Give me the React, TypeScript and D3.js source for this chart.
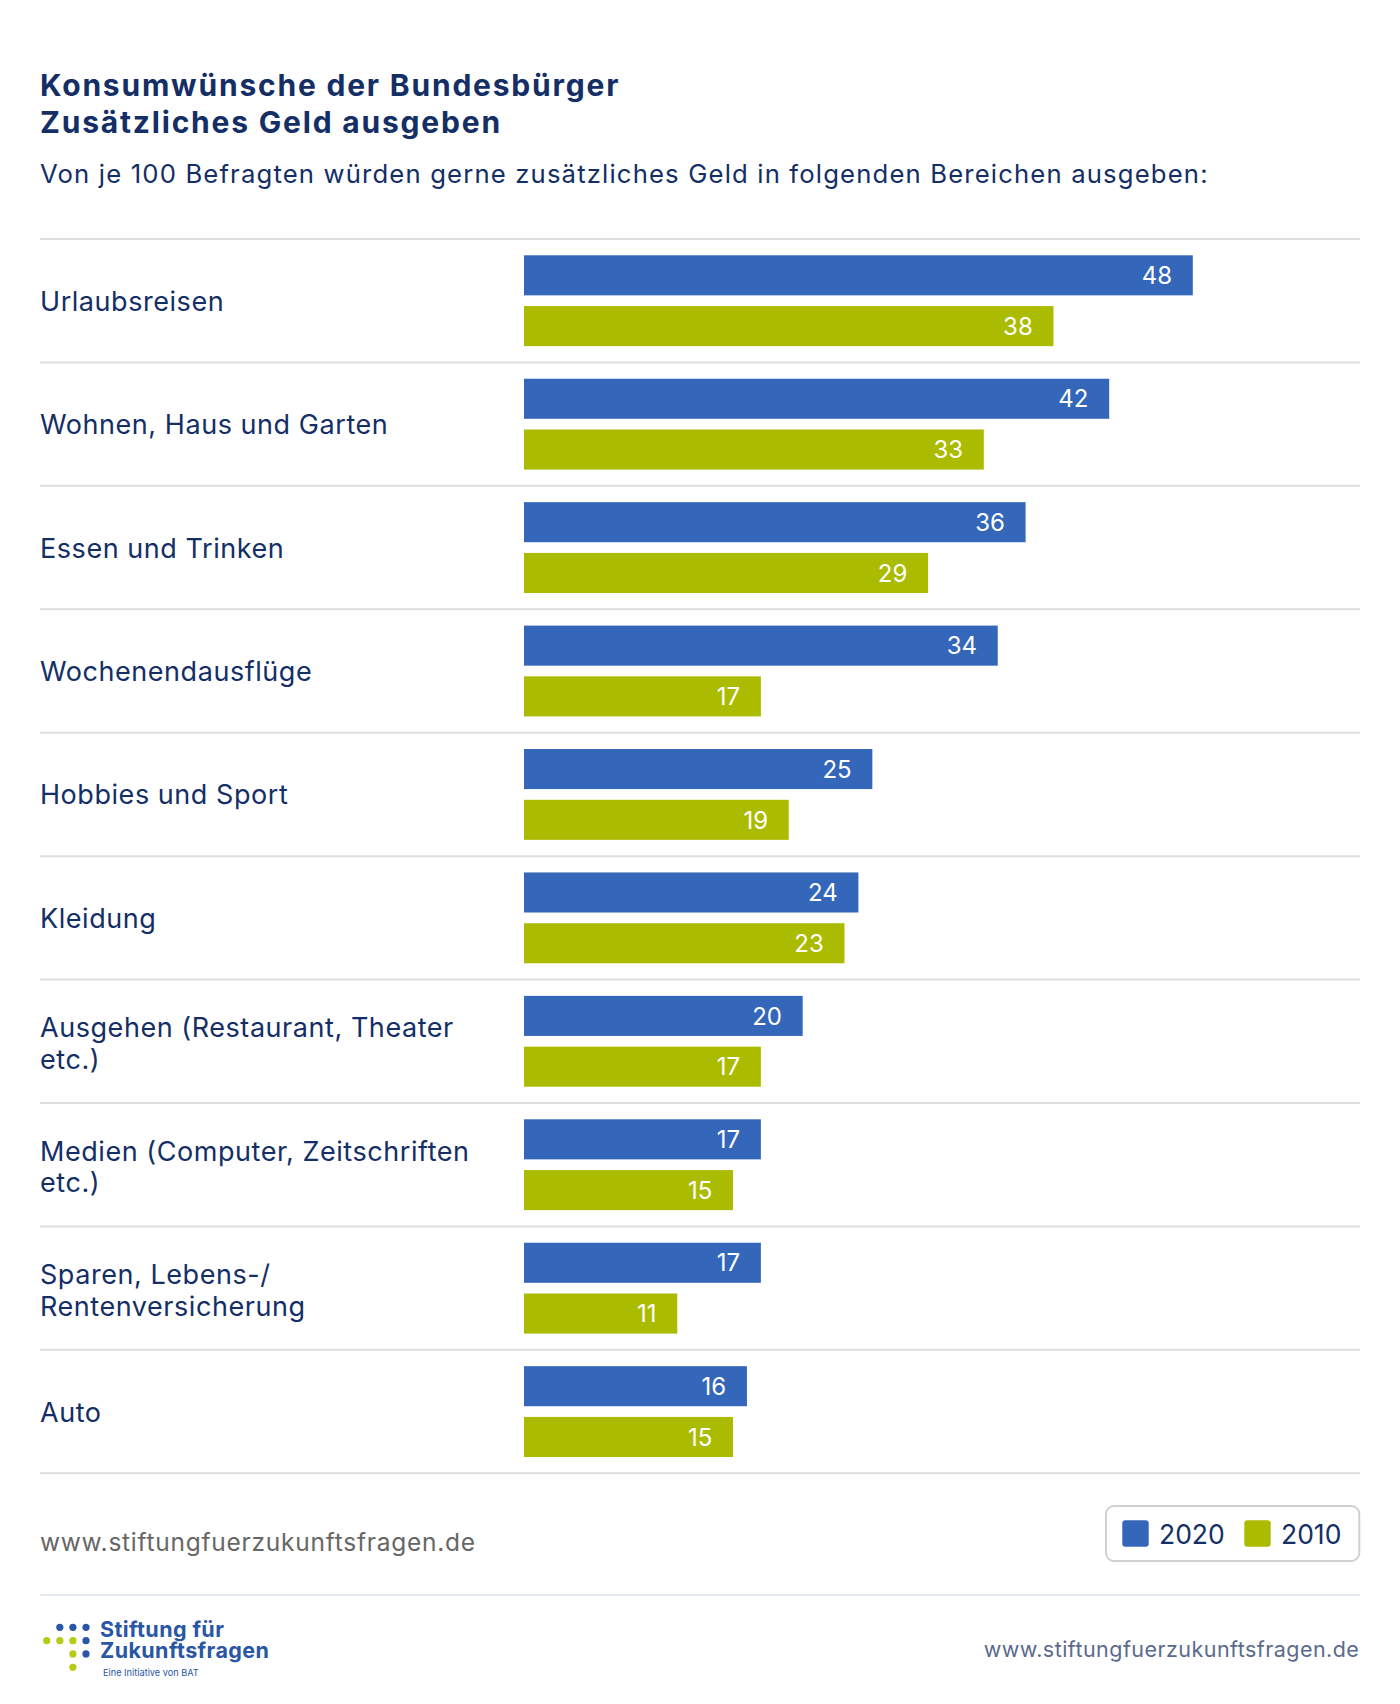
import * as d3 from "d3";

// Konsumwünsche der Bundesbürger – Stiftung für Zukunftsfragen
const categories = [
  "Urlaubsreisen",
  "Wohnen, Haus und Garten",
  "Essen und Trinken",
  "Wochenendausflu\u0308ge",
  "Hobbies und Sport",
  "Kleidung",
  "Ausgehen (Restaurant, Theater\netc.)",
  "Medien (Computer, Zeitschriften\netc.)",
  "Sparen, Lebens-/\nRentenversicherung",
  "Auto",
];
const years = ["2020", "2010"];
const values2020 = [48, 42, 36, 34, 25, 24, 20, 17, 17, 16];
const values2010 = [38, 33, 29, 17, 19, 23, 17, 15, 11, 15];

const W = 1400;
const H = 1704;
const FONT = "Inter, 'Noto Sans', sans-serif";
const NAVY = "#142e66";

const color = d3.scaleOrdinal<string, string>().domain(years).range(["#3466ba", "#abbb00"]);

// logo dot grid: [col, row, isBlue]
const logoDots: [number, number, boolean][] = [
  [1, 0, true], [2, 0, true], [3, 0, true],
  [0, 1, false], [1, 1, false], [2, 1, false], [3, 1, true],
  [2, 2, false], [3, 2, true],
  [2, 3, false],
];

export default function App() {
  const x = d3.scaleLinear().domain([0, 60]).range([524, 1360]);
  const y = d3.scaleBand<string>().domain(categories).range([239, 1473.3]);
  const yIn = d3
    .scaleBand<string>()
    .domain(years)
    .range([0, y.bandwidth()])
    .paddingInner(0.211)
    .paddingOuter(0.321);

  const rows = categories.map((c, i) => ({ c, v: [values2020[i], values2010[i]] }));
  const seps = [...categories.map((c) => y(c)!), y.range()[1]];

  return (
    <svg
      width={W}
      height={H}
      style={{ position: "absolute", left: 0, top: 0, background: "#fff" }}
      fontFamily={FONT}
    >
      <rect width={W} height={H} fill="#fff" />

      {/* header */}
      <text x={40} y={96} fill={NAVY} fontSize={30} fontWeight={700} letterSpacing={1.8}>
        Konsumwünsche der Bundesbürger
      </text>
      <text x={40} y={133.3} fill={NAVY} fontSize={30} fontWeight={700} letterSpacing={1.8}>
        Zusätzliches Geld ausgeben
      </text>
      <text x={40} y={182.7} fill={NAVY} fontSize={25.7} letterSpacing={1.15}>
        Von je 100 Befragten würden gerne zusätzliches Geld in folgenden Bereichen ausgeben:
      </text>

      {/* row separators */}
      {seps.map((s, i) => (
        <line key={i} x1={40} x2={1360} y1={s} y2={s} stroke="#dedede" strokeWidth={2} />
      ))}

      {rows.map((r) => {
        const top = y(r.c)!;
        const lines = r.c.split("\n");
        const mid = top + y.bandwidth() / 2;
        return (
          <g key={r.c}>
            <text fill={NAVY} fontSize={27} letterSpacing={0.55}>
              {lines.map((l, j) => (
                <tspan key={j} x={40} y={mid + 10 - (lines.length - 1) * 14 + j * 31.7}>
                  {l}
                </tspan>
              ))}
            </text>
            {years.map((yr, k) => {
              const by = top + yIn(yr)!;
              return (
                <g key={yr}>
                  <rect
                    x={x(0)}
                    y={by}
                    width={x(r.v[k]) - x(0)}
                    height={yIn.bandwidth()}
                    fill={color(yr)}
                  />
                  <text
                    x={x(r.v[k]) - 20.7}
                    y={by + yIn.bandwidth() / 2 + 8.7}
                    fill="#fff"
                    fontSize={24}
                    textAnchor="end"
                  >
                    {r.v[k]}
                  </text>
                </g>
              );
            })}
          </g>
        );
      })}

      {/* source + legend */}
      <text x={40} y={1551} fill="#666" fontSize={24.5} letterSpacing={0.75}>
        www.stiftungfuerzukunftsfragen.de
      </text>
      <rect x={1106} y={1506} width={253.3} height={55} rx={8} fill="#fff" stroke="#d0d0d0" strokeWidth={2} />
      {years.map((yr, k) => (
        <g key={yr} transform={`translate(${1122.3 + k * 122},1520.3)`}>
          <rect width={26.4} height={26.4} rx={3} fill={color(yr)} />
          <text x={36.7} y={23.7} fill={NAVY} fontSize={26.5}>
            {yr}
          </text>
        </g>
      ))}

      {/* footer */}
      <line x1={40} x2={1360} y1={1595} y2={1595} stroke="#e4e9f2" strokeWidth={2} />
      {logoDots.map(([cx, cy, blue], i) => (
        <circle
          key={i}
          cx={46.7 + cx * 13.1}
          cy={1627.3 + cy * 13.33}
          r={3.6}
          fill={blue ? "#2a56a6" : "#b5cb16"}
        />
      ))}
      <text x={100} y={1637} fill="#2a56a6" fontSize={21.5} fontWeight={700} letterSpacing={0.4}>
        Stiftung für
      </text>
      <text x={100} y={1658} fill="#2a56a6" fontSize={21.5} fontWeight={700} letterSpacing={0.4}>
        Zukunftsfragen
      </text>
      <text x={103} y={1676} fill="#2a56a6" fontSize={9.2}>
        Eine Initiative von BAT
      </text>
      <text x={1359.3} y={1656.7} fill="#5b6a8c" fontSize={21.5} letterSpacing={0.45} textAnchor="end">
        www.stiftungfuerzukunftsfragen.de
      </text>
    </svg>
  );
}
